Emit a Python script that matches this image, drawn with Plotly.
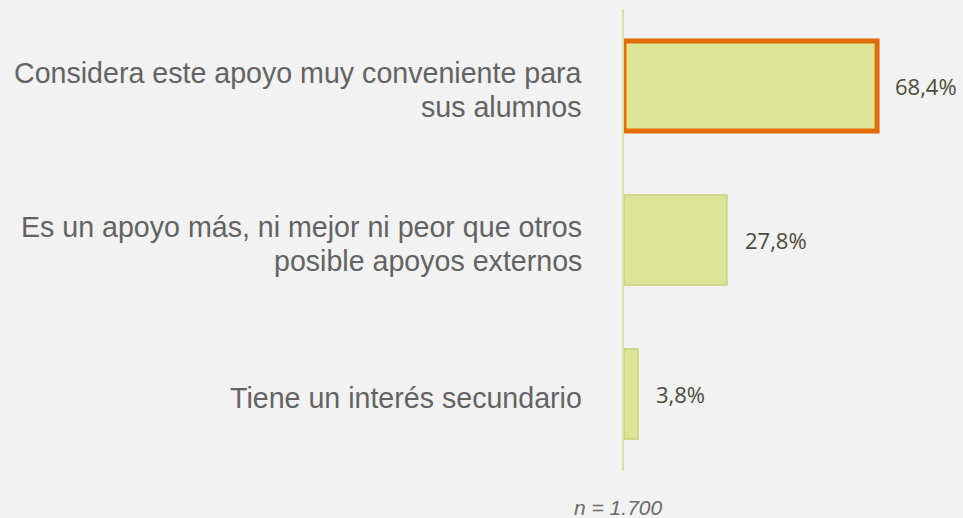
import plotly.graph_objects as go

categories = [
    "Considera este apoyo muy conveniente para<br>sus alumnos",
    "Es un apoyo más, ni mejor ni peor que otros<br>posible apoyos externos",
    "Tiene un interés secundario",
]
values = [68.4, 27.8, 3.8]
value_labels = ["68,4%", "27,8%", "3,8%"]
note = "n = 1.700"

line_colors = ["#e36c09", "#c8d27e", "#c8d27e"]
line_widths = [5, 1.5, 1.5]

W, H = 963, 518
ML, MR, MT, MB = 624, 6, 9, 47
plot_w = W - ML - MR
plot_h = H - MT - MB
LABEL_FS = 28.6
LINE_GAP = 34

fig = go.Figure()
fig.add_trace(go.Bar(
    x=values, y=categories, orientation="h",
    marker=dict(color="#dce596", line=dict(color=line_colors, width=line_widths)),
    width=0.585, hoverinfo="skip",
))
for v, c, t in zip(values, categories, value_labels):
    fig.add_annotation(x=v, y=c, text=t, showarrow=False, xanchor="left",
                       xshift=16, yshift=0,
                       font=dict(family="Open Sans", size=22, color="#4a4d3a"))
    lines = c.split("<br>")
    n = len(lines)
    for k, ln in enumerate(lines):
        off = 3.5 + (k - (n - 1) / 2) * LINE_GAP
        fig.add_annotation(x=0, xref="paper", y=c, text=ln, showarrow=False,
                           xanchor="right", align="right", yanchor="middle",
                           xshift=-40, yshift=-off,
                           font=dict(family="Liberation Sans", size=LABEL_FS,
                                     color="#636363"))
fig.add_annotation(x=(618 - ML) / plot_w, y=-(507 - (H - MB)) / plot_h,
                   xref="paper", yref="paper", xanchor="center", yanchor="middle",
                   text="<i>" + note + "</i>", showarrow=False,
                   font=dict(family="Liberation Sans", size=21, color="#6b6b6b"))

fig.update_layout(
    width=W, height=H,
    paper_bgcolor="#f2f2f2", plot_bgcolor="#f2f2f2",
    margin=dict(l=ML, r=MR, t=MT, b=MB),
    showlegend=False,
    xaxis=dict(range=[0, 90], visible=False, fixedrange=True),
    yaxis=dict(autorange="reversed", showgrid=False, zeroline=False,
               showline=True, linecolor="#d9e3a0", linewidth=2,
               ticks="", showticklabels=False, fixedrange=True),
)
fig.write_html("out.html", config={"displayModeBar": False},
               post_script="document.body.style.margin='0';")
